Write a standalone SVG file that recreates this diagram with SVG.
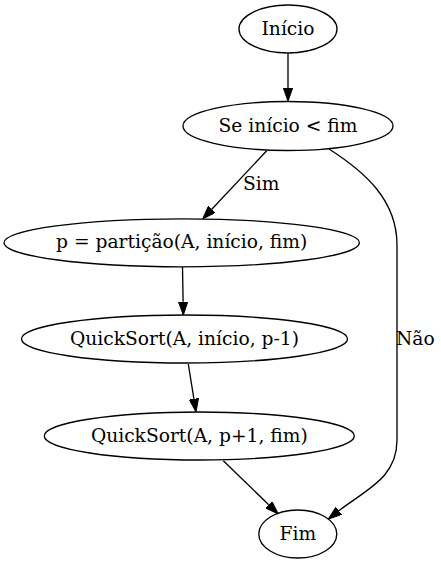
<svg xmlns="http://www.w3.org/2000/svg" width="441" height="564" viewBox="0 0 441 564">
<style>
.n ellipse{fill:none;stroke:#000;stroke-width:1.33}
text{font-family:"DejaVu Serif","Liberation Serif",serif;font-size:18.67px;fill:#000}
.n text{text-anchor:middle}
.e path{fill:none;stroke:#000;stroke-width:1.33}
</style>
<defs>
<marker id="ah" viewBox="0 0 13.3 9.3" refX="0" refY="4.65" markerWidth="13.3" markerHeight="9.3" markerUnits="userSpaceOnUse" orient="auto">
<path d="M0,0 L13.3,4.65 L0,9.3 z" fill="#000" stroke="#000" stroke-width="1"/>
</marker>
</defs>
<rect width="441" height="564" fill="#fff"/>
<g class="e" id="edges">
<path d="M288,53.5 L288,88" marker-end="url(#ah)"/>
<path d="M266.7,150.7 L211.8,209.3" marker-end="url(#ah)"/>
<path d="M182.5,267 L183.1,301.7" marker-end="url(#ah)"/>
<path d="M188.3,364 L193.9,398.9" marker-end="url(#ah)"/>
<path d="M223.3,460.7 L268.7,504.7" marker-end="url(#ah)"/>
<path d="M329,149 C365,172 397,200 397,245 L397,440 C397,478 366.4,489.3 338.8,510.8" marker-end="url(#ah)"/>
<text x="243" y="190">Sim</text>
<text x="396" y="345">Não</text>
</g>
<g class="n" id="inicio"><ellipse cx="288" cy="29" rx="49" ry="24"/><text x="288" y="34.5">Início</text></g>
<g class="n" id="se"><ellipse cx="288" cy="126" rx="105" ry="24.5"/><text x="288" y="131.5">Se início &lt; fim</text></g>
<g class="n" id="particao"><ellipse cx="181.7" cy="242.8" rx="177.7" ry="24"/><text x="181.7" y="248.3">p = partição(A, início, fim)</text></g>
<g class="n" id="qs1"><ellipse cx="184.5" cy="339" rx="163" ry="24"/><text x="184.5" y="344.5">QuickSort(A, início, p-1)</text></g>
<g class="n" id="qs2"><ellipse cx="199.3" cy="436" rx="155" ry="24"/><text x="199.3" y="441.5">QuickSort(A, p+1, fim)</text></g>
<g class="n" id="fim"><ellipse cx="297.8" cy="534" rx="39" ry="24"/><text x="297.8" y="539.5">Fim</text></g>
</svg>
